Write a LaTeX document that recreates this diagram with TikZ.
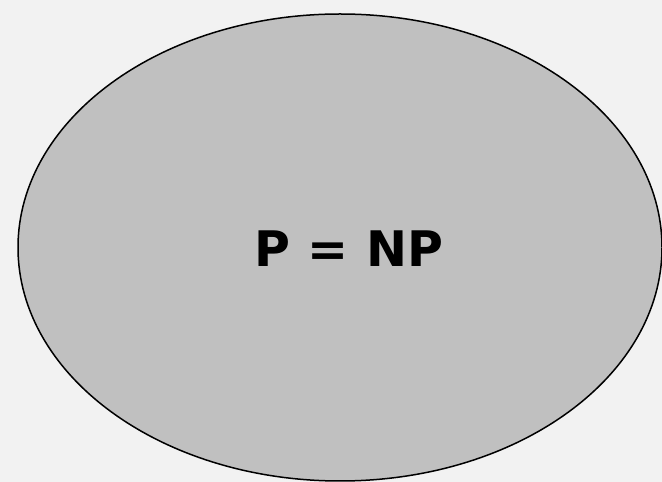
\documentclass[tikz,border=0pt]{standalone}
\usepackage{fontspec}
\setmainfont{DejaVu Sans}
\usepackage{tikz}
\usetikzlibrary{positioning,shapes.geometric}

\definecolor{bggray}{HTML}{F2F2F2}
\definecolor{setgray}{HTML}{C0C0C0}

\begin{document}
\begin{tikzpicture}[
        x=1pt, y=1pt,
        setbox/.style={ellipse, draw=black, fill=setgray, line width=1.5pt, inner sep=0pt, minimum width=644pt, minimum height=467pt},
        classlabel/.style={font=\fontsize{49}{55}\selectfont\bfseries, inner sep=0pt}
    ]
    \fill[bggray] (0,0) rectangle (662,482);
    \useasboundingbox (0,0) rectangle (662,482);
    \clip (0,0) rectangle (662,482);

    \node[setbox] (pnp) at (340,234.5) {};
    \node[classlabel] (eq) at (349,233.5) {P = NP};
\end{tikzpicture}
\end{document}
